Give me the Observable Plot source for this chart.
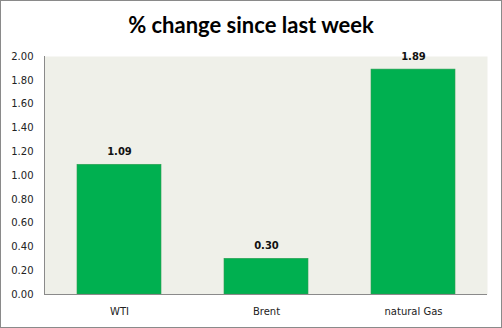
<!DOCTYPE html>
<html>
<head>
<meta charset="utf-8">
<script src="https://cdn.jsdelivr.net/npm/d3@7"></script>
<script src="https://cdn.jsdelivr.net/npm/@observablehq/plot@0.6"></script>
<style>
  html, body { margin: 0; padding: 0; background: #fff; }
  #wrap { width: 502px; height: 328px; box-sizing: border-box; border: 1px solid #8a8a8a; overflow: hidden; }
  #title { height: 44px; line-height: 48px; text-align: center; font-family: Lato, "Open Sans", sans-serif; font-weight: bold; font-size: 22px; color: #000; }
</style>
</head>
<body>
<div id="wrap">
  <div id="title">% change since last week</div>
  <div id="chart"></div>
</div>
<script>
const categories = ["WTI", "Brent", "natural Gas"];
const values = [1.09, 0.30, 1.89];
const yTicks = [0, 0.2, 0.4, 0.6, 0.8, 1.0, 1.2, 1.4, 1.6, 1.8, 2.0];

const data = categories.map((c, i) => ({category: c, value: values[i]}));
const fmt = d3.format(".2f");

const chart = Plot.plot({
  width: 500,
  height: 282,
  marginLeft: 43,
  marginRight: 14,
  marginTop: 11,
  marginBottom: 33,
  style: {fontFamily: "'DejaVu Sans', sans-serif", fontSize: "10px", color: "#222", background: "transparent"},
  x: {domain: categories, paddingInner: 0.43, paddingOuter: 0.215, label: null},
  y: {domain: [0, 2], label: null},
  marks: [
    Plot.frame({fill: "#eff0e9", stroke: null}),
    Plot.barY(data, {x: "category", y: "value", fill: "#00b050", stroke: "#2e9e52", strokeWidth: 0.6}),
    Plot.text(data, {x: "category", y: "value", text: d => fmt(d.value), dy: -13, fontWeight: "bold", fontSize: 10, fill: "#111"}),
    Plot.frame({anchor: "left", stroke: "#8a8a8a"}),
    Plot.ruleY([0], {stroke: "#8a8a8a"}),
    Plot.axisY({ticks: yTicks, tickFormat: fmt, tickSize: 0, tickPadding: 11, label: null}),
    Plot.axisX({tickSize: 0, tickPadding: 13, label: null})
  ]
});
document.getElementById("chart").appendChild(chart);
</script>
</body>
</html>
